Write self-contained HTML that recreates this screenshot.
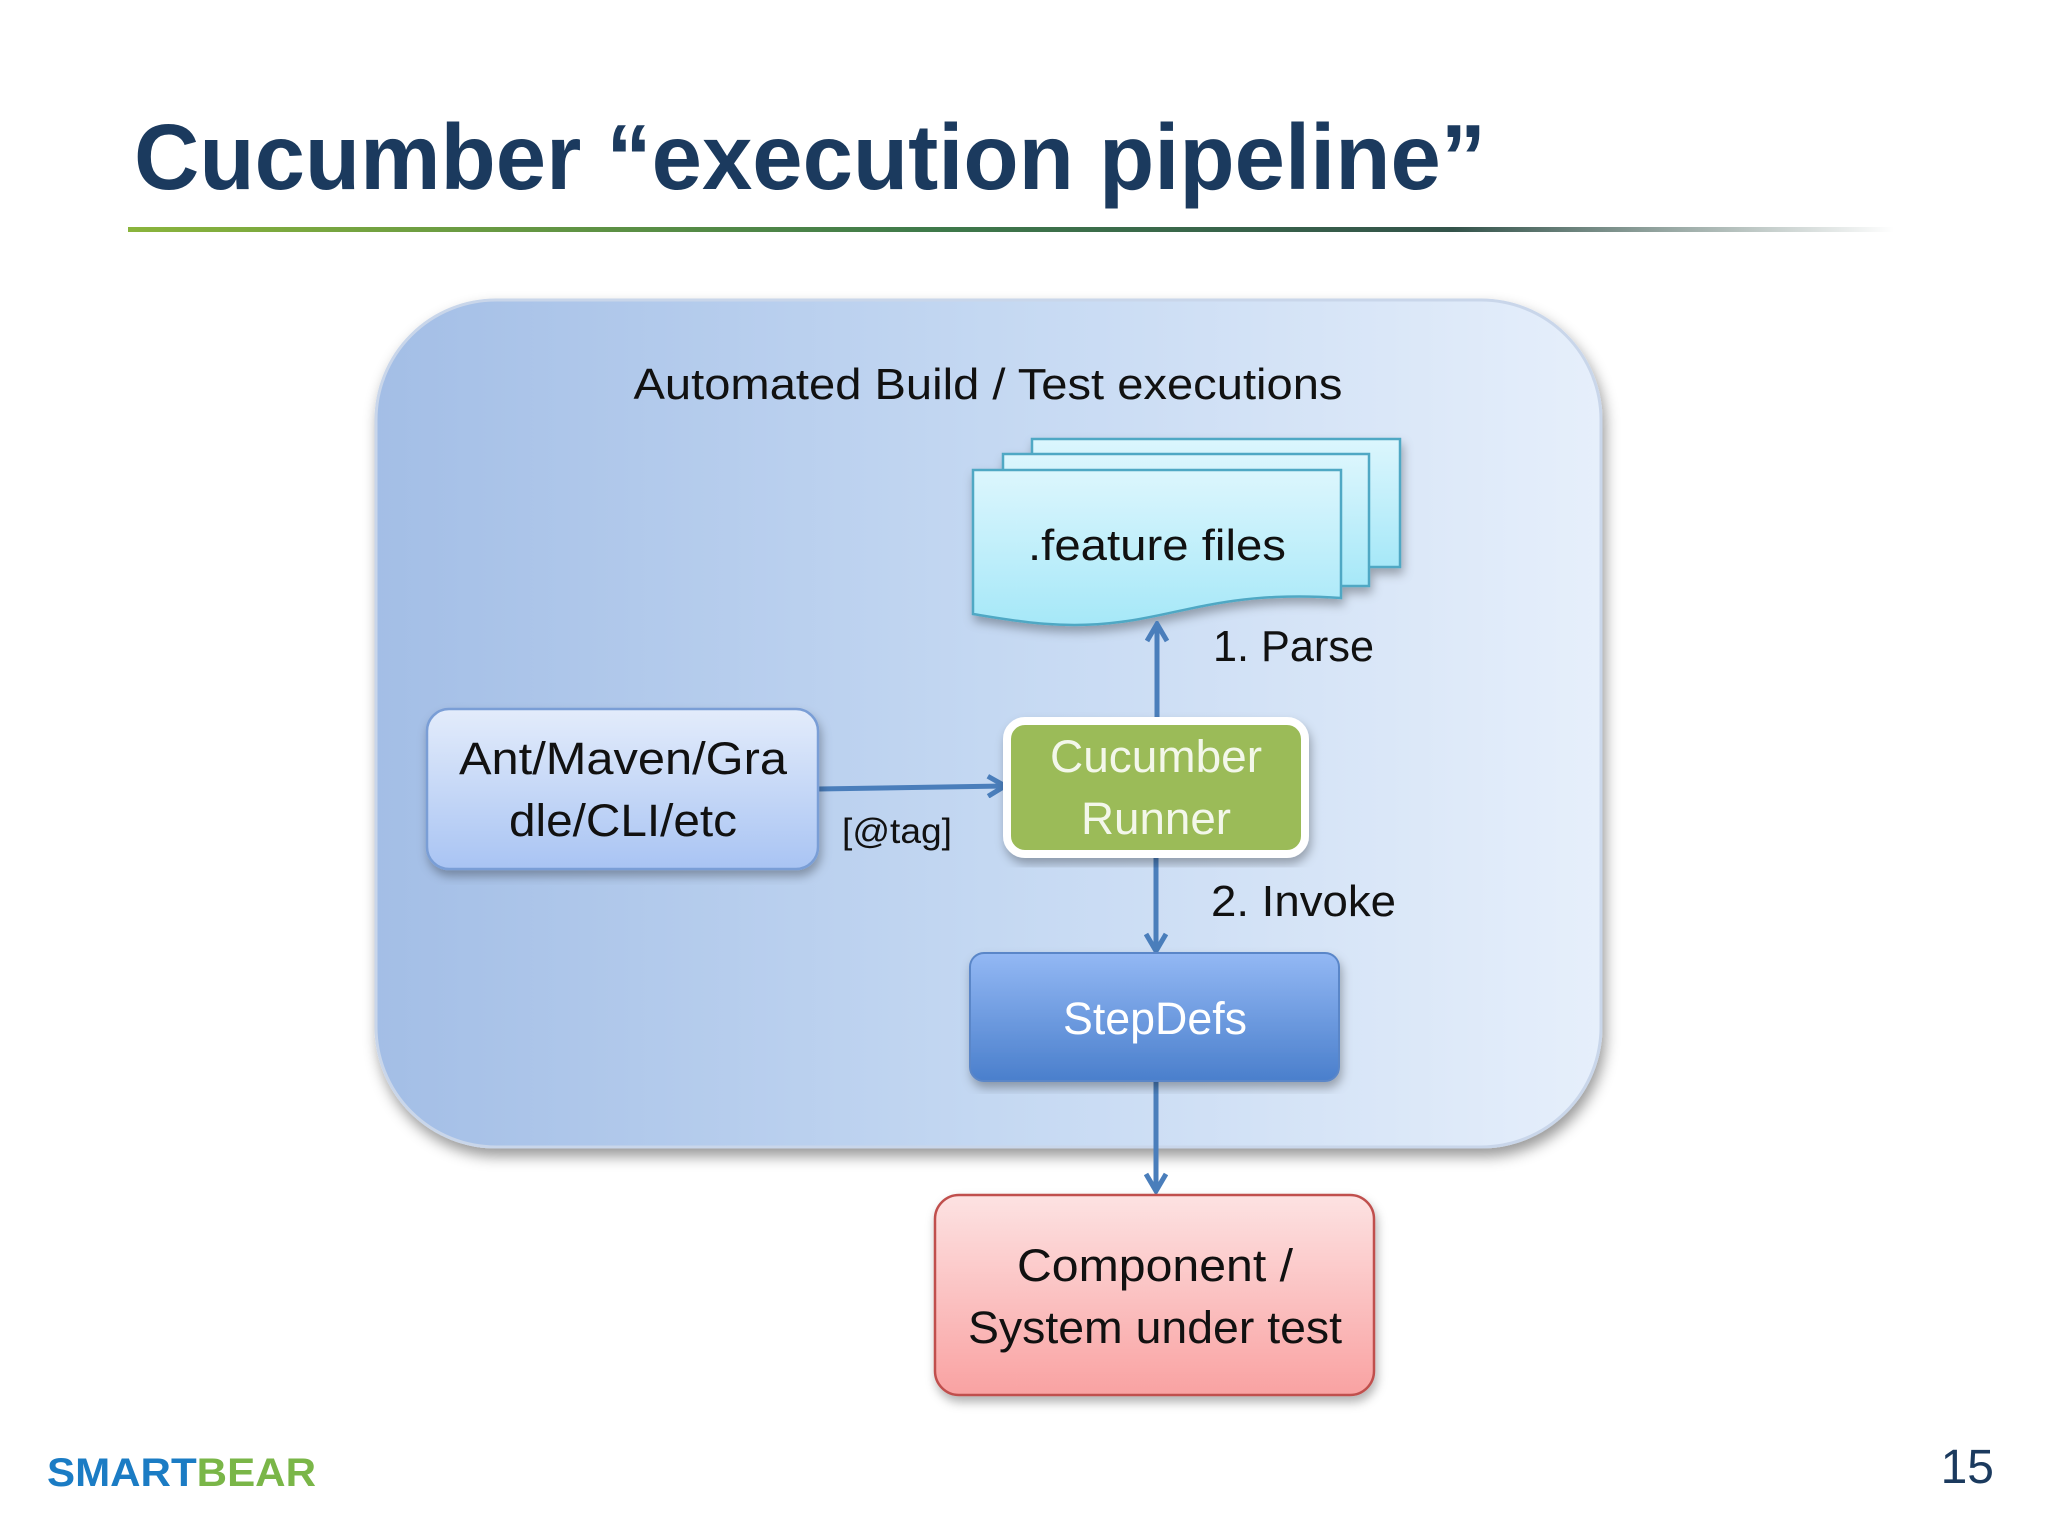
<!DOCTYPE html>
<html><head><meta charset="utf-8"><style>
html,body{margin:0;padding:0;background:#fff;}
svg{display:block}
text{font-family:"Liberation Sans",sans-serif;}
</style></head><body>
<svg width="2048" height="1536" viewBox="0 0 2048 1536" xmlns="http://www.w3.org/2000/svg">
<defs>
<linearGradient id="rule" x1="0" x2="1" y1="0" y2="0">
<stop offset="0" stop-color="#8ab43c"/><stop offset="0.45" stop-color="#3f7a4a"/><stop offset="0.75" stop-color="#33534a"/><stop offset="1" stop-color="#ffffff"/>
</linearGradient>
<linearGradient id="cont" x1="0" x2="1" y1="0" y2="0">
<stop offset="0" stop-color="#a3bee6"/><stop offset="0.5" stop-color="#c4d8f2"/><stop offset="1" stop-color="#e6effb"/>
</linearGradient>
<linearGradient id="doc" x1="0" x2="0" y1="0" y2="1">
<stop offset="0" stop-color="#dcf6fd"/><stop offset="1" stop-color="#a6e8f8"/>
</linearGradient>
<linearGradient id="ant" x1="0" x2="0" y1="0" y2="1">
<stop offset="0" stop-color="#e3ecfb"/><stop offset="1" stop-color="#a9c4f3"/>
</linearGradient>
<linearGradient id="step" x1="0" x2="0" y1="0" y2="1">
<stop offset="0" stop-color="#93b8f4"/><stop offset="1" stop-color="#4a7fcc"/>
</linearGradient>
<linearGradient id="comp" x1="0" x2="0" y1="0" y2="1">
<stop offset="0" stop-color="#fde2e2"/><stop offset="1" stop-color="#f9a2a2"/>
</linearGradient>
<filter id="sh" x="-10%" y="-10%" width="120%" height="120%"><feDropShadow dx="2" dy="6" stdDeviation="5" flood-color="#000" flood-opacity="0.3"/></filter>
<filter id="sh2" x="-10%" y="-10%" width="120%" height="120%"><feDropShadow dx="3" dy="8" stdDeviation="7" flood-color="#000" flood-opacity="0.4"/></filter>
<marker id="ah" markerWidth="24" markerHeight="24" refX="20" refY="12" orient="auto" markerUnits="userSpaceOnUse" viewBox="0 0 24 24">
<path d="M4,2 L21,12 L4,22" fill="none" stroke="#4a7ebb" stroke-width="5" stroke-linejoin="miter"/>
</marker>
</defs>

<text x="134" y="189" font-size="93" font-weight="bold" fill="#1b3a5e" textLength="1352" lengthAdjust="spacingAndGlyphs">Cucumber “execution pipeline”</text>
<rect x="128" y="227" width="1766" height="5" fill="url(#rule)"/>

<rect x="376" y="300" width="1225" height="847" rx="120" fill="url(#cont)" stroke="#c9d6ea" stroke-width="3" filter="url(#sh2)"/>
<text x="988" y="399" font-size="44" text-anchor="middle" fill="#111" textLength="709" lengthAdjust="spacingAndGlyphs">Automated Build / Test executions</text>

<g stroke="#4fa8c4" stroke-width="2.5" fill="url(#doc)" filter="url(#sh)">
<rect x="1032" y="439" width="368" height="128"/>
<rect x="1003" y="454" width="366" height="132"/>
<path d="M973,470 H1341 V598 C1230,590 1180,615 1120,622 C1060,630 1010,620 973,614 Z"/>
</g>
<text x="1157" y="560" font-size="44" text-anchor="middle" fill="#111" textLength="258" lengthAdjust="spacingAndGlyphs">.feature files</text>

<g stroke="#4a7ebb" stroke-width="5" fill="none">
<line x1="1157" y1="720" x2="1157" y2="625" marker-end="url(#ah)"/>
<line x1="818" y1="789" x2="1004" y2="786" marker-end="url(#ah)"/>
<line x1="1156" y1="855" x2="1156" y2="950" marker-end="url(#ah)"/>
<line x1="1156" y1="1081" x2="1156" y2="1190" marker-end="url(#ah)"/>
</g>
<text x="1213" y="661" font-size="44" fill="#111" textLength="161" lengthAdjust="spacingAndGlyphs">1. Parse</text>
<text x="1211" y="916" font-size="44" fill="#111" textLength="185" lengthAdjust="spacingAndGlyphs">2. Invoke</text>
<text x="842" y="843" font-size="35" fill="#111" textLength="110" lengthAdjust="spacingAndGlyphs">[@tag]</text>

<rect x="427" y="709" width="391" height="160" rx="22" fill="url(#ant)" stroke="#7a9ed6" stroke-width="2.5" filter="url(#sh)"/>
<text x="623" y="774" font-size="45" text-anchor="middle" fill="#111" textLength="328" lengthAdjust="spacingAndGlyphs">Ant/Maven/Gra</text>
<text x="623" y="836" font-size="45" text-anchor="middle" fill="#111" textLength="228" lengthAdjust="spacingAndGlyphs">dle/CLI/etc</text>

<rect x="1007" y="721" width="298" height="133" rx="18" fill="#9bbb59" stroke="#ffffff" stroke-width="8" filter="url(#sh)"/>
<text x="1156" y="772" font-size="45" text-anchor="middle" fill="#f3f7ea" textLength="212" lengthAdjust="spacingAndGlyphs">Cucumber</text>
<text x="1156" y="834" font-size="45" text-anchor="middle" fill="#f3f7ea" textLength="150" lengthAdjust="spacingAndGlyphs">Runner</text>

<rect x="970" y="953" width="369" height="128" rx="14" fill="url(#step)" stroke="#5a86c8" stroke-width="2" filter="url(#sh)"/>
<text x="1155" y="1034" font-size="45" text-anchor="middle" fill="#fff" textLength="184" lengthAdjust="spacingAndGlyphs">StepDefs</text>

<rect x="935" y="1195" width="439" height="200" rx="24" fill="url(#comp)" stroke="#c0504d" stroke-width="2.5" filter="url(#sh)"/>
<text x="1155" y="1281" font-size="45" text-anchor="middle" fill="#111" textLength="276" lengthAdjust="spacingAndGlyphs">Component /</text>
<text x="1155" y="1343" font-size="45" text-anchor="middle" fill="#111" textLength="374" lengthAdjust="spacingAndGlyphs">System under test</text>

<text x="47" y="1486" font-size="40" font-weight="bold" textLength="269" lengthAdjust="spacingAndGlyphs"><tspan fill="#1b7cc4">SMART</tspan><tspan fill="#7ab648">BEAR</tspan></text>
<text x="1994" y="1483" font-size="48" text-anchor="end" fill="#1b3a5e">15</text>
</svg>
</body></html>
